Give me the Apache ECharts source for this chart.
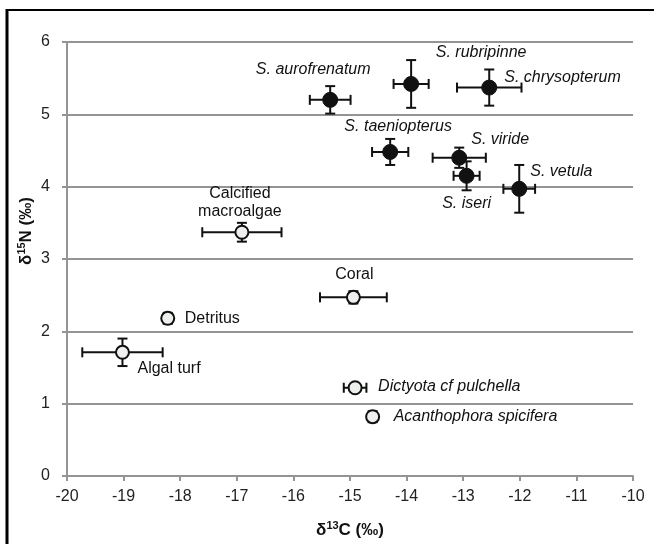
<!DOCTYPE html>
<html><head><meta charset="utf-8">
<script src="https://cdn.jsdelivr.net/npm/echarts@6/dist/echarts.min.js"></script>
<style>html,body{margin:0;padding:0;background:#fff}#c{width:654px;height:544px}</style>
</head><body><div id="c"></div>
<script>
// ---- data ----
const xMin = -20, xMax = -10, xStep = 1;
const yMin = 0, yMax = 6, yStep = 1;

const fishNames = ['S. aurofrenatum', 'S. rubripinne', 'S. chrysopterum', 'S. taeniopterus', 'S. viride', 'S. iseri', 'S. vetula'];
const fishC = [-15.35, -13.92, -12.54, -14.29, -13.07, -12.94, -12.01];
const fishN = [5.20, 5.42, 5.37, 4.48, 4.40, 4.15, 3.97];
const fishCerr = [0.36, 0.31, 0.57, 0.32, 0.47, 0.23, 0.28];
const fishNerr = [0.19, 0.33, 0.25, 0.18, 0.14, 0.20, 0.33];

const srcNames = ['Calcified\nmacroalgae', 'Detritus', 'Algal turf', 'Coral', 'Dictyota cf pulchella', 'Acanthophora spicifera'];
const srcC = [-16.91, -18.22, -19.02, -14.94, -14.91, -14.60];
const srcN = [3.37, 2.18, 1.71, 2.47, 1.22, 0.82];
const srcCerr = [0.70, 0.08, 0.71, 0.59, 0.20, 0.05];
const srcNerr = [0.13, 0.076, 0.19, 0.085, 0.04, 0.076];

// ---- label placement (style) ----
const fishLabelStyle = [
  {align: 'center', offset: [-17, -30]},
  {align: 'center', offset: [70, -31]},
  {align: 'left', offset: [15, -10]},
  {align: 'center', offset: [8, -25]},
  {align: 'left', offset: [12, -18]},
  {align: 'center', offset: [0, 28]},
  {align: 'left', offset: [11, -17]}
];
const srcLabelStyle = [
  {align: 'center', offset: [-2, -30], italic: false},
  {align: 'left', offset: [17, 0], italic: false},
  {align: 'left', offset: [15, 16], italic: false},
  {align: 'center', offset: [1, -23], italic: false},
  {align: 'left', offset: [23, -1], italic: true},
  {align: 'left', offset: [21, 0], italic: true}
];

const FONT = 'Liberation Sans, Arial, sans-serif';

function errData(xs, ys, ex, ey) {
  return xs.map((x, i) => [x, ys[i], ex[i], ey[i]]);
}
function pointData(xs, ys, names, styles) {
  return xs.map((x, i) => ({
    value: [x, ys[i]],
    name: names[i],
    label: {
      show: true,
      position: 'inside',
      align: styles[i].align,
      verticalAlign: 'middle',
      offset: styles[i].offset,
      fontStyle: styles[i].italic === false ? 'normal' : 'italic'
    }
  }));
}

function renderErr(params, api) {
  const x = api.value(0), y = api.value(1), ex = api.value(2), ey = api.value(3);
  const l = api.coord([x - ex, y]), r = api.coord([x + ex, y]);
  const t = api.coord([x, y + ey]), b = api.coord([x, y - ey]);
  const cap = 5;
  const st = {stroke: '#111', lineWidth: 2};
  const ln = (x1, y1, x2, y2) => ({type: 'line', shape: {x1, y1, x2, y2}, style: st});
  return {type: 'group', children: [
    ln(l[0], l[1], r[0], r[1]),
    ln(l[0], l[1] - cap, l[0], l[1] + cap),
    ln(r[0], r[1] - cap, r[0], r[1] + cap),
    ln(t[0], t[1], b[0], b[1]),
    ln(t[0] - cap, t[1], t[0] + cap, t[1]),
    ln(b[0] - cap, b[1], b[0] + cap, b[1])
  ]};
}

const chart = echarts.init(document.getElementById('c'), null, {renderer: 'canvas'});
const gridColor = '#949494';
const nameRich = {
  d: {fontSize: 17, fontWeight: 'bold', color: '#111', fontFamily: FONT},
  s: {fontSize: 11, fontWeight: 'bold', color: '#111', fontFamily: FONT, verticalAlign: 'top', lineHeight: 20}
};
chart.setOption({
  animation: false,
  backgroundColor: '#ffffff',
  textStyle: {fontFamily: FONT},
  grid: {left: 67, right: 21, top: 42, bottom: 68, outerBoundsMode: 'none', containLabel: false},
  graphic: [
    {type: 'line', shape: {x1: 7, y1: 10, x2: 654, y2: 10}, style: {stroke: '#000', lineWidth: 2}, z: 100},
    {type: 'line', shape: {x1: 7, y1: 9, x2: 7, y2: 544}, style: {stroke: '#000', lineWidth: 3}, z: 100}
  ],
  xAxis: {
    type: 'value', min: xMin, max: xMax, interval: xStep,
    name: '{d|δ}{s|13}{d|C (‰)}', nameLocation: 'middle', nameGap: 44, nameMoveOverlap: false,
    nameTextStyle: {rich: nameRich},
    axisLine: {show: true, onZero: false, lineStyle: {color: gridColor, width: 2}},
    axisTick: {show: true, inside: false, length: 5, lineStyle: {color: gridColor, width: 2}},
    axisLabel: {fontSize: 16, color: '#222', margin: 13, fontFamily: FONT},
    splitLine: {show: false}
  },
  yAxis: {
    type: 'value', min: yMin, max: yMax, interval: yStep,
    name: '{d|δ}{s|15}{d|N (‰)}', nameLocation: 'middle', nameGap: 31, nameMoveOverlap: false,
    nameTextStyle: {rich: nameRich, padding: [0, 0, 0, 56]},
    axisLine: {show: true, onZero: false, lineStyle: {color: gridColor, width: 2}},
    axisTick: {show: true, inside: false, length: 5, lineStyle: {color: gridColor, width: 2}},
    axisLabel: {fontSize: 16, color: '#222', margin: 17, fontFamily: FONT},
    splitLine: {show: true, lineStyle: {color: gridColor, width: 2}}
  },
  series: [
    {type: 'custom', name: 'fishErr', renderItem: renderErr, data: errData(fishC, fishN, fishCerr, fishNerr), z: 2, silent: true},
    {type: 'custom', name: 'srcErr', renderItem: renderErr, data: errData(srcC, srcN, srcCerr, srcNerr), z: 2, silent: true},
    {
      type: 'scatter', name: 'fish', z: 3, symbol: 'circle', symbolSize: 15,
      itemStyle: {color: '#111', borderColor: '#111', borderWidth: 1, opacity: 1},
      label: {formatter: '{b}', fontSize: 16, color: '#111', fontFamily: FONT, lineHeight: 18},
      data: pointData(fishC, fishN, fishNames, fishLabelStyle)
    },
    {
      type: 'scatter', name: 'sources', z: 3, symbol: 'circle', symbolSize: 13,
      itemStyle: {color: '#eef0ee', borderColor: '#111', borderWidth: 2, opacity: 1},
      label: {formatter: '{b}', fontSize: 16, color: '#111', fontFamily: FONT, lineHeight: 18},
      data: pointData(srcC, srcN, srcNames, srcLabelStyle)
    }
  ]
});
</script>
</body></html>
